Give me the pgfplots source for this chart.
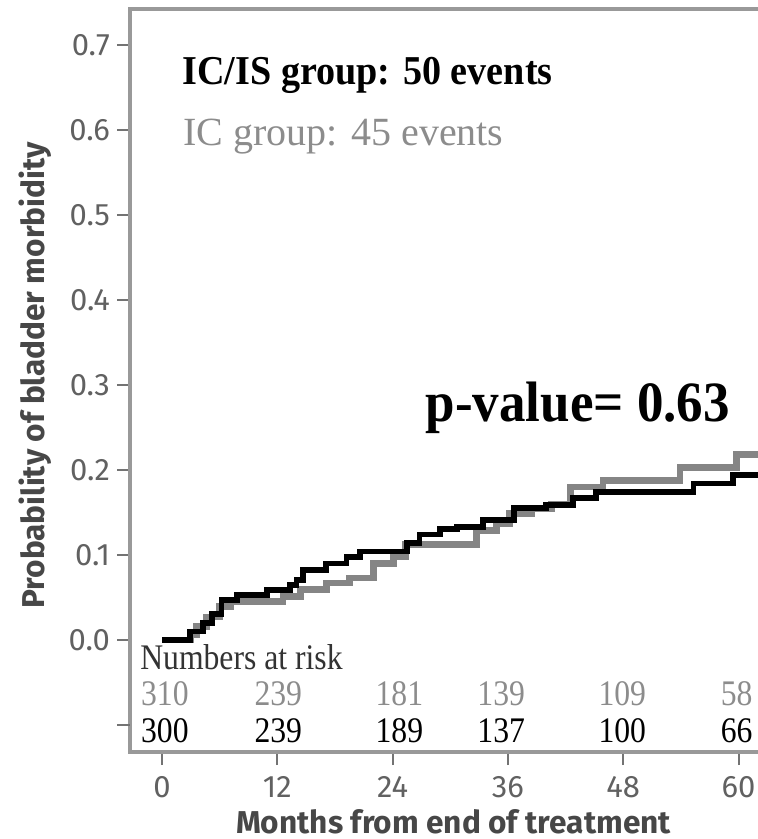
\documentclass[border=0pt]{standalone}
\usepackage{pgfplots}
\pgfplotsset{compat=1.18}
\usepackage{fontspec}
\setmainfont{Liberation Serif}
\newfontfamily\serifC[FakeStretch=0.93]{Liberation Serif}
\newfontfamily\riskfont[FakeStretch=0.88]{Liberation Serif}
\newfontfamily\labfont{Fira Sans}
\definecolor{axgray}{gray}{0.6}
\definecolor{txtgray}{gray}{0.55}
\begin{document}
\begin{tikzpicture}
\useasboundingbox (-65pt,-43.5pt) rectangle (314pt,376pt);
\clip (-65pt,-43.5pt) rectangle (314pt,376pt);
\begin{axis}[
  at={(0pt,0pt)}, anchor=south west,
  scale only axis, width=323.5pt, height=371.5pt,
  xmin=-3.33, xmax=64, ymin=-0.1318, ymax=0.7424,
  clip mode=individual,
  axis line style={draw=axgray, line width=2pt},
  tick align=outside, major tick length=6.5pt,
  tick style={draw=black!55, line width=1pt},
  xtick={0,12,24,36,48,60}, ytick={0,0.1,0.2,0.3,0.4,0.5,0.6,0.7},
  extra y ticks={-0.1}, extra y tick labels={},
  xtick pos=left, ytick pos=left,
  /pgf/number format/assume math mode=true,
  ticklabel style={font=\labfont\fontsize{15.5}{18}\selectfont, text=black!62},
  x tick label style={yshift=-2pt},
  y tick label style={/pgf/number format/fixed, /pgf/number format/fixed zerofill, /pgf/number format/precision=1},
  xlabel={Months from end of treatment},
  ylabel={Probability of bladder morbidity},
  xlabel style={at={(axis description cs:0.5,-0.094)}, anchor=center, font=\labfont\bfseries\fontsize{15.8}{18}\selectfont, text=black!72},
  ylabel style={at={(axis description cs:-0.147,0.507)}, anchor=center, font=\labfont\bfseries\fontsize{15.8}{18}\selectfont, text=black!72},
]
% IC group (gray)
\addplot[const plot, draw=black!48, line width=3.4pt] coordinates {
(0,0) (3.0,0.006) (3.6,0.016) (4.6,0.027) (6.0,0.039) (7.1,0.045) (12.6,0.051) (14.4,0.059) (17.1,0.067) (19.5,0.073) (22.0,0.090) (24.1,0.098) (25.3,0.112) (32.7,0.129) (34.8,0.137) (36.2,0.149) (38.5,0.155) (40.5,0.160) (42.5,0.180) (45.9,0.188) (53.9,0.203) (59.8,0.218) (64,0.218)
};
% IC/IS group (black)
\addplot[const plot, draw=black, line width=2.9pt] coordinates {
(0,0) (2.9,0.010) (4.3,0.020) (5.2,0.031) (6.2,0.047) (7.8,0.053) (10.9,0.059) (13.3,0.065) (14.0,0.071) (14.7,0.082) (17.1,0.090) (19.2,0.098) (20.6,0.104) (25.5,0.114) (26.8,0.124) (28.9,0.131) (30.7,0.133) (33.4,0.141) (36.6,0.155) (40.0,0.159) (42.8,0.167) (45.2,0.174) (55.3,0.184) (59.4,0.194) (64,0.194)
};
\node[anchor=base west, inner sep=0pt, font=\serifC\bfseries\fontsize{20.5}{24}\selectfont] at (axis cs:2.1,0.653) {IC/IS group: 50 events};
\node[anchor=base west, inner sep=0pt, text=txtgray, font=\fontsize{20}{24}\selectfont] at (axis cs:2.2,0.582) {IC group: 45 events};
\node[anchor=base west, inner sep=0pt, font=\serifC\bfseries\fontsize{28.5}{32}\selectfont] at (axis cs:27.4,0.2565) {p-value= 0.63};
\node[anchor=base west, inner sep=0pt, text=black!80, font=\riskfont\fontsize{18}{20}\selectfont] at (axis cs:-2.3,-0.0345) {Numbers at risk};
\begin{scope}[every node/.style={anchor=base, inner sep=0pt, text=txtgray, font=\riskfont\fontsize{18}{20}\selectfont}]
\node at (axis cs:0.3,-0.0775) {310};
\node at (axis cs:12.1,-0.0775) {239};
\node at (axis cs:24.7,-0.0775) {181};
\node at (axis cs:35.3,-0.0775) {139};
\node at (axis cs:47.9,-0.0775) {109};
\node at (axis cs:59.8,-0.0775) {58};
\end{scope}
\begin{scope}[every node/.style={anchor=base, inner sep=0pt, text=black, font=\riskfont\fontsize{18}{20}\selectfont}]
\node at (axis cs:0.3,-0.121) {300};
\node at (axis cs:12.1,-0.121) {239};
\node at (axis cs:24.7,-0.121) {189};
\node at (axis cs:35.3,-0.121) {137};
\node at (axis cs:47.9,-0.121) {100};
\node at (axis cs:59.8,-0.121) {66};
\end{scope}
\end{axis}
\end{tikzpicture}
\end{document}
